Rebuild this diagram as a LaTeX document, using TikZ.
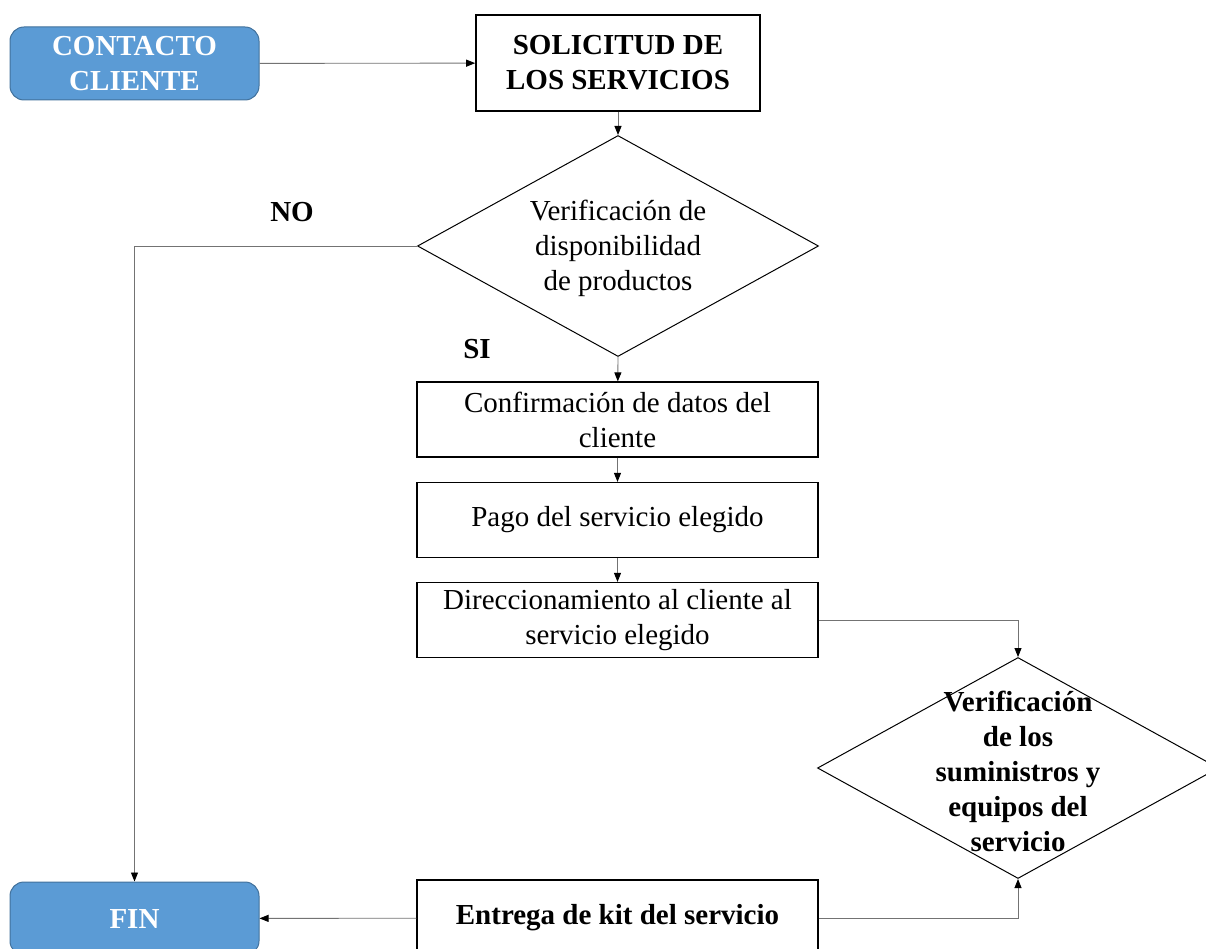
\documentclass[tikz,border=0pt]{standalone}
\usepackage{fontspec}
\setmainfont{Liberation Serif}
\usepackage{xcolor}
\usetikzlibrary{shapes.geometric,arrows.meta,positioning,calc}

\definecolor{startblue}{HTML}{5B9BD5}
\definecolor{startedge}{HTML}{41719C}

\begin{document}
\begin{tikzpicture}[x=1pt, y=-1pt,
    every node/.style={font=\fontsize{29}{35}\selectfont},
    terminal/.style={rectangle, rounded corners=14pt, draw=startedge, line width=1pt, fill=startblue, text=white, align=center, font=\fontsize{29}{35}\selectfont\bfseries, minimum width=249, minimum height=73, inner sep=0},
    pbox/.style={rectangle, draw, line width=1.2pt, align=center, minimum width=401, minimum height=75, inner sep=0},
    decision/.style={diamond, draw, line width=1pt, minimum width=401, minimum height=221, inner sep=0},
    conn/.style={draw=black!55, line width=0.9pt, -{Triangle[length=9pt, width=7pt, color=black]}}]

    \useasboundingbox (0,0) rectangle (1206,949);
    \clip (0,0) rectangle (1206,949);

    \node[terminal] (contacto) at (134.5,63.5) {CONTACTO\\CLIENTE};
    \node[pbox, line width=1.6pt, minimum width=284, minimum height=96, font=\fontsize{29}{35}\selectfont\bfseries] (solicitud) at (618,63) {SOLICITUD DE\\LOS SERVICIOS};

    \node[decision] (d1) at (618,246) {};
    \node (d1txt) at (618,248) [align=center] {Verificación de\\disponibilidad\\de productos};

    \node[pbox] (conf) at (617.5,419.5) {Confirmación de datos del\\cliente};
    \node[pbox] (pago) at (617.5,520) {Pago del servicio elegido};
    \node[pbox] (dir) at (617.5,620) {Direccionamiento al cliente al\\servicio elegido};

    \node[decision] (d2) at (1018,768) {};
    \node (d2txt) at (1018,771) [align=center, font=\fontsize{29}{35}\selectfont\bfseries] {Verificación\\de los\\suministros y\\equipos del\\servicio};

    \node[pbox, minimum height=76, font=\fontsize{29}{35}\selectfont\bfseries] (entrega) at (617.5,918) {Entrega de kit del servicio};
    \node[terminal] (fin) at (134.5,918.5) {FIN};

    \node[font=\fontsize{29}{35}\selectfont\bfseries] (no) at (292,212) {NO};
    \node[font=\fontsize{29}{35}\selectfont\bfseries] (si) at (477,349) {SI};

    \draw[conn] (contacto) -- (solicitud);
    \draw[conn] (solicitud) -- (d1);
    \draw[conn] (d1.west) -| (fin.north);
    \draw[conn] (d1.south) -- (conf);
    \draw[conn] (conf) -- (pago);
    \draw[conn] (pago) -- (dir);
    \draw[conn] (dir.east) -| (d2.north);
    \draw[conn] (entrega.east) -| (d2.south);
    \draw[conn] (entrega) -- (fin);

\end{tikzpicture}
\end{document}
